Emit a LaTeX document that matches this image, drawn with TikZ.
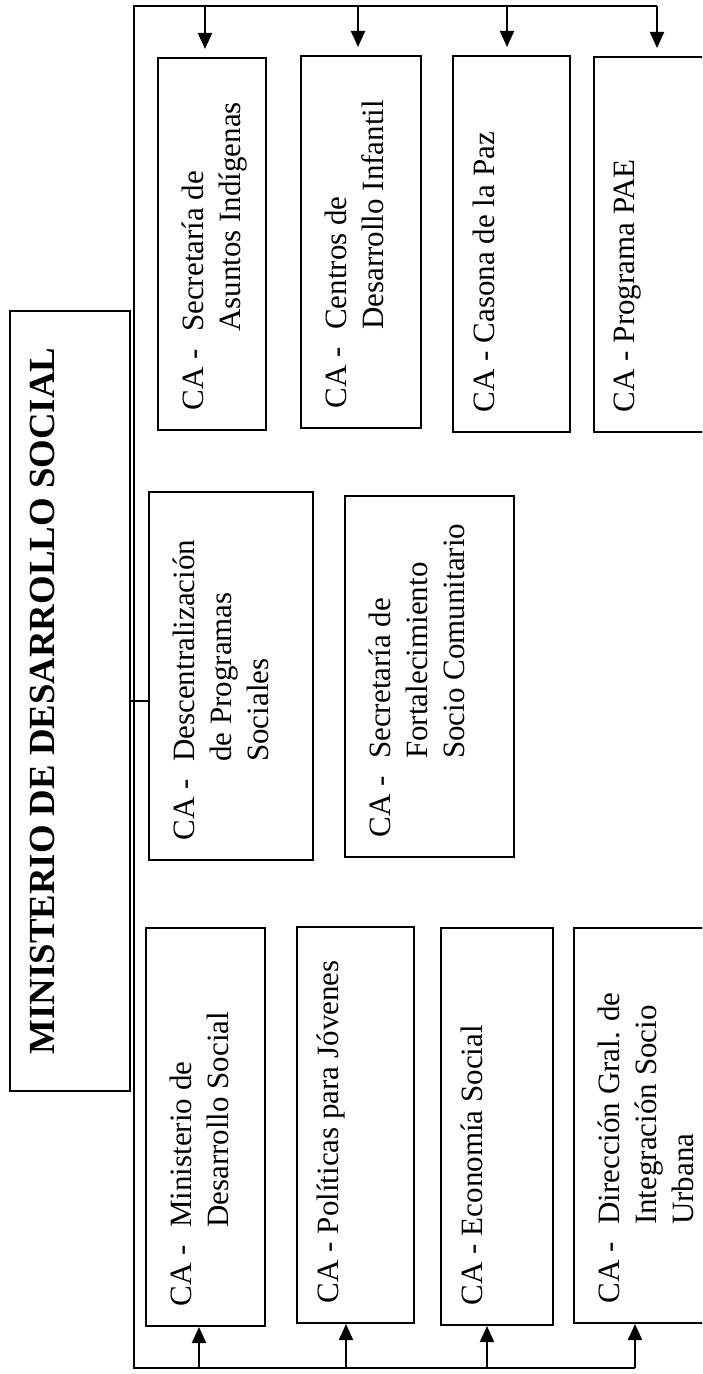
\documentclass[tikz,border=0pt]{standalone}
\usepackage{fontspec}
\setmainfont{Liberation Serif}
\usetikzlibrary{arrows.meta}
\newcommand{\cabody}[3]{\parbox[c][#2][t]{#1}{#3}}
\newcommand{\catab}[1]{\begin{tabular}[t]{@{}l@{\hspace{0.55em}}l@{}}CA - & #1\end{tabular}}

\begin{document}
\begin{tikzpicture}[x=0.5pt, y=0.5pt, >={Triangle[length=8pt,width=7pt]},
    cabox/.style={draw, line width=1pt, rotate=90, inner sep=10pt, font=\fontsize{15.5}{18.5}\selectfont},
    titlebox/.style={draw, line width=1pt, rotate=90, inner sep=10pt, font=\bfseries\fontsize{18.4}{22}\selectfont},
    link/.style={line width=1pt}]

    \useasboundingbox (0,0) rectangle (702,-1374);
    \clip (0,0) rectangle (702,-1374);

    \node[titlebox] (main) at (70,-701) {\cabody{370pt}{40pt}{\centering MINISTERIO DE DESARROLLO SOCIAL}};

    % top row
    \node[cabox] (secind) at (212,-244) {\cabody{166pt}{34pt}{\catab{Secretaría de\\ & Asuntos Indígenas}}};
    \node[cabox] (centros) at (361,-242) {\cabody{166pt}{40pt}{\catab{Centros de\\ & Desarrollo Infantil}}};
    \node[cabox] (casona) at (511.5,-244) {\cabody{168pt}{38.5pt}{CA - Casona de la Paz}};
    \node[cabox] (pae) at (654,-244.5) {\cabody{167.5pt}{40pt}{CA - Programa PAE}};

    % middle row
    \node[cabox] (descent) at (231,-676) {\cabody{164pt}{62pt}{\catab{Descentralización\\ & de Programas\\ & Sociales}}};
    \node[cabox] (fortal) at (429.5,-676.5) {\cabody{160.5pt}{64.5pt}{\catab{Secretaría de\\ & Fortalecimiento\\ & Socio Comunitario}}};

    % bottom row
    \node[cabox] (minist) at (205.5,-1127) {\cabody{179pt}{39.5pt}{\catab{Ministerio de\\ & Desarrollo Social}}};
    \node[cabox] (politicas) at (355.5,-1125) {\cabody{178pt}{38.5pt}{CA - Políticas para Jóvenes}};
    \node[cabox] (economia) at (497,-1126.5) {\cabody{178.5pt}{36pt}{CA - Economía Social}};
    \node[cabox] (direccion) at (644,-1125.5) {\cabody{177.5pt}{50pt}{\catab{Dirección Gral. de\\ & Integración Socio\\ & Urbana}}};

    % bracket
    \coordinate (tl) at (134,-6);
    \coordinate (bl) at (134,-1368);
    \coordinate (ta) at (205,-6);
    \coordinate (tb) at (358,-6);
    \coordinate (tc) at (507,-6);
    \coordinate (td) at (657,-6);
    \coordinate (ba) at (199,-1368);
    \coordinate (bb) at (346,-1368);
    \coordinate (bc) at (487,-1368);
    \coordinate (bd) at (635,-1368);
    \draw[link] (td) -- (tl) -- (bl) -- (bd);
    \draw[link] (main.south) -- (main.south -| descent.north);

    \draw[link, ->, shorten >=4pt] (ta) -- (ta |- secind.east);
    \draw[link, ->, shorten >=4pt] (tb) -- (tb |- centros.east);
    \draw[link, ->, shorten >=4pt] (tc) -- (tc |- casona.east);
    \draw[link, ->, shorten >=4pt] (td) -- (td |- pae.east);

    \draw[link, ->] (ba) -- (ba |- minist.west);
    \draw[link, ->] (bb) -- (bb |- politicas.west);
    \draw[link, ->] (bc) -- (bc |- economia.west);
    \draw[link, ->] (bd) -- (bd |- direccion.west);
\end{tikzpicture}
\end{document}
